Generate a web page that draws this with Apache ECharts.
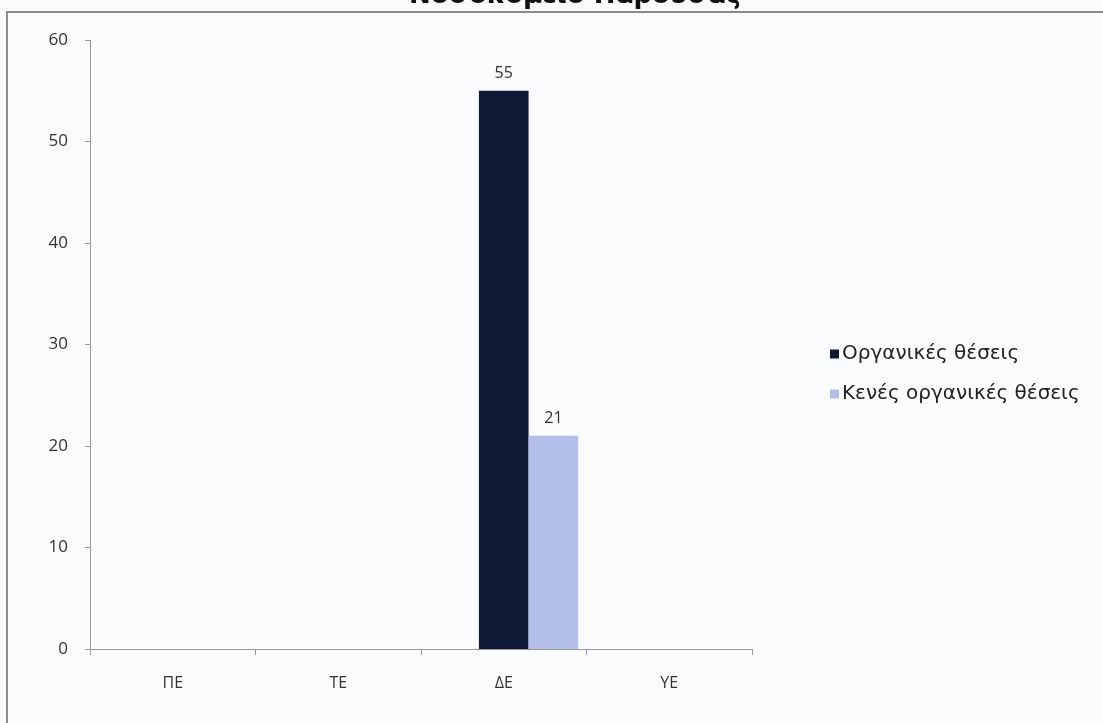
<!DOCTYPE html>
<html>
<head>
<meta charset="utf-8">
<style>
  html, body { margin: 0; padding: 0; background: #ffffff; }
  #chart { width: 1103px; height: 723px; }
</style>
<script src="https://cdn.jsdelivr.net/npm/echarts@6/dist/echarts.min.js"></script>
</head>
<body>
<div id="chart"></div>
<script>
// Staff grades and positions per grade
const categories = ['ΠΕ', 'ΤΕ', 'ΔΕ', 'ΥΕ'];
const emptySeries = [null, null, null, null];   // blank first series, keeps its slot in each group
const organikes = [null, null, 55, null];
const kenes = [null, null, 21, null];
const seriesNames = ['Οργανικές θέσεις', 'Κενές οργανικές θέσεις'];
const yTicks = { min: 0, max: 60, interval: 10 };
const titleText = 'Νοσοκομείο Παρούσας';

const font = '"Open Sans", "Liberation Sans", sans-serif';
const wideFont = '"DejaVu Sans", "Open Sans", sans-serif';
const chart = echarts.init(document.getElementById('chart'), null, { renderer: 'canvas' });

const valueLabel = {
  show: true, position: 'top', distance: 9,
  fontSize: 16, color: '#333', fontFamily: font
};

chart.setOption({
  backgroundColor: '#f9fbfc',
  animation: false,
  textStyle: { fontFamily: font },
  graphic: [
    {
      type: 'rect',
      shape: { x: 7, y: 12, width: 1110, height: 720 },
      style: { fill: 'none', stroke: '#8a8a8a', lineWidth: 2 },
      silent: true
    },
    {
      type: 'text',
      x: 575,
      y: 9,
      style: {
        text: titleText,
        fontFamily: wideFont,
        fontWeight: 'bold',
        fontSize: 26,
        fill: '#111',
        align: 'center',
        verticalAlign: 'bottom'
      },
      silent: true
    }
  ],
  legend: {
    orient: 'vertical',
    left: 825,
    top: 339,
    itemWidth: 9,
    itemHeight: 9,
    itemGap: 20,
    icon: 'rect',
    textStyle: { fontSize: 20, color: '#222', fontFamily: wideFont, padding: [0, 0, 0, -2] },
    data: seriesNames
  },
  grid: { left: 90, right: 351, top: 40, bottom: 74, containLabel: false },
  xAxis: {
    type: 'category',
    data: categories,
    axisLine: { show: true, lineStyle: { color: '#9a9a9a', width: 1 } },
    axisTick: { show: true, alignWithLabel: false, length: 6, lineStyle: { color: '#9a9a9a' } },
    axisLabel: { margin: 26, fontSize: 16, color: '#333', fontFamily: font }
  },
  yAxis: {
    type: 'value',
    min: yTicks.min,
    max: yTicks.max,
    interval: yTicks.interval,
    splitLine: { show: false },
    axisLine: { show: true, lineStyle: { color: '#9a9a9a', width: 1 } },
    axisTick: { show: true, length: 5, lineStyle: { color: '#9a9a9a' } },
    axisLabel: { margin: 22, fontSize: 17, color: '#333', fontFamily: font }
  },
  series: [
    {
      name: '',
      type: 'bar',
      data: emptySeries,
      barGap: '0%',
      barCategoryGap: '10%',
      silent: true
    },
    {
      name: seriesNames[0],
      type: 'bar',
      data: organikes,
      barGap: '0%',
      barCategoryGap: '10%',
      itemStyle: { color: '#0e1a35' },
      label: valueLabel
    },
    {
      name: seriesNames[1],
      type: 'bar',
      data: kenes,
      barGap: '0%',
      barCategoryGap: '10%',
      itemStyle: { color: '#b4bfe9' },
      label: valueLabel
    }
  ]
});
</script>
</body>
</html>
